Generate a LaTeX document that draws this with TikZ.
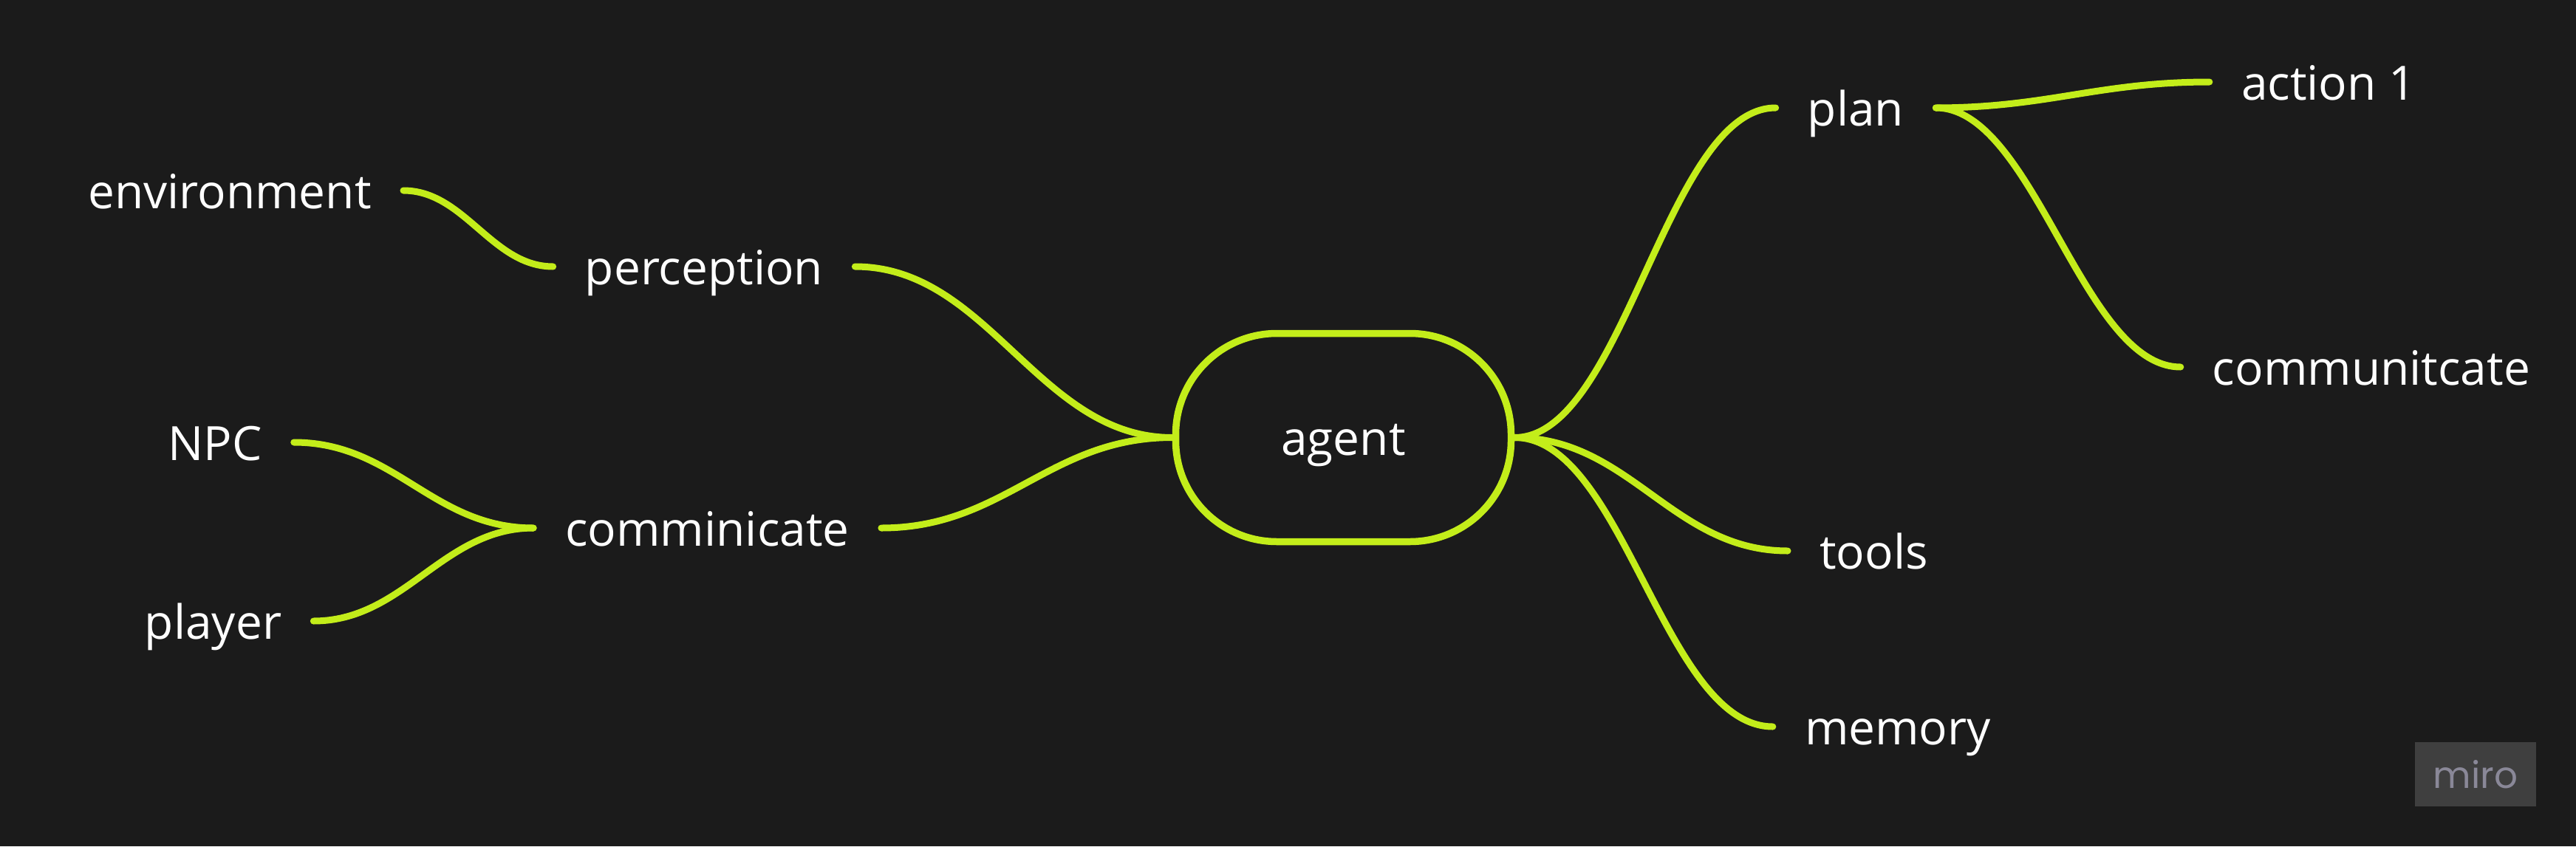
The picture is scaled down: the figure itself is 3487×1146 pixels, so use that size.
\documentclass[tikz,border=0pt]{standalone}
\usepackage{fontspec}
\setmainfont{Open Sans}
\newfontfamily\mirofont{Poppins}
\definecolor{bgc}{HTML}{1B1B1B}
\definecolor{lime}{HTML}{C3ED1A}
\definecolor{logobox}{HTML}{3F3F3F}
\definecolor{logotext}{HTML}{8A8898}
\newcommand\lblfont{\fontsize{64}{76}\selectfont}
\newcommand\branchcurve[3]{\draw[branch] (#1) .. controls +(#3,0) and +(-#3,0) .. (#2);}
\begin{document}
\begin{tikzpicture}[x=1pt,y=-1pt,
  lbl/.style={text=white, font=\lblfont, inner xsep=43pt, inner ysep=0pt,
    text height=48pt, text depth=0pt, anchor=base},
  hub/.style={draw=lime, line width=9.5pt, rounded corners=137pt,
    minimum width=454pt, minimum height=282pt, inner sep=0pt,
    text=white, font=\lblfont, text height=48pt, text depth=0pt},
  branch/.style={draw=lime, line width=9pt, line cap=round},
  logo/.style={fill=logobox, text=logotext, minimum width=164pt,
    minimum height=87pt, inner sep=0pt, font=\mirofont\fontsize{50}{60}\selectfont}]
\fill[bgc] (0,0) rectangle (3487,1146);
\useasboundingbox (0,0) rectangle (3487,1146);
% nodes
\node[hub] (agent) at (1818.5,592.5) {agent};
\node[lbl] (env) at (311,282) {environment};
\node[lbl] (perc) at (953,385) {perception};
\node[lbl] (comm) at (957.5,739) {comminicate};
\node[lbl] (npc) at (291,623) {NPC};
\node[lbl] (player) at (288.5,865) {player};
\node[lbl] (plan) at (2512,170) {plan};
\node[lbl] (action) at (3152,135) {action 1};
\node[lbl] (commu) at (3210,521) {communitcate};
\node[lbl] (tools) at (2536.5,770) {tools};
\node[lbl] (memory) at (2569,1008) {memory};
\node[logo] (miro) at (3351,1048.5) {miro};
% connectors
\branchcurve{env.east}{perc.west}{83}
\branchcurve{perc.east}{agent.west}{181}
\branchcurve{comm.east}{agent.west}{167}
\branchcurve{npc.east}{comm.west}{137}
\branchcurve{player.east}{comm.west}{123}
\branchcurve{agent.east}{plan.west}{148}
\branchcurve{agent.east}{tools.west}{156}
\branchcurve{agent.east}{memory.west}{147}
\branchcurve{plan.east}{action.west}{151}
\branchcurve{plan.east}{commu.west}{133}
\end{tikzpicture}
\end{document}
